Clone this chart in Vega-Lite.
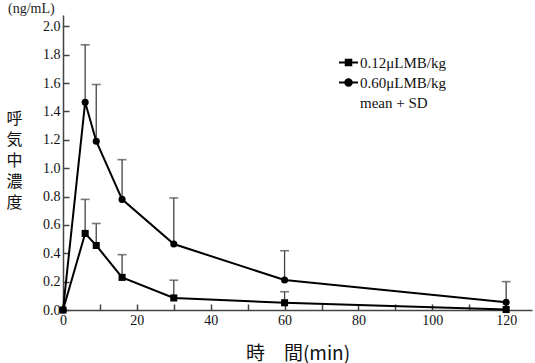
{
  "$schema": "https://vega.github.io/schema/vega-lite/v6.json",
  "width": 469,
  "height": 295,
  "autosize": "none",
  "padding": {"left": 63, "top": 15, "right": 3, "bottom": 53},
  "background": "white",
  "title": {"text": "(ng/mL)", "anchor": "start", "frame": "group", "dx": -55, "offset": -1, "font": "Liberation Serif", "fontSize": 14, "fontWeight": "normal", "color": "#222"},
  "config": {
    "view": {"stroke": null},
    "axis": {"grid": false, "domainColor": "#444", "domainWidth": 1.5, "tickColor": "#444", "tickWidth": 1.5, "labelFont": "Liberation Serif", "labelFontSize": 14, "labelColor": "#111"}
  },
  "data": {"values": [
    {"dose": "0.12μLMB/kg", "time": 0, "mean": 0, "upper": 0},
    {"dose": "0.12μLMB/kg", "time": 6, "mean": 0.54, "upper": 0.78},
    {"dose": "0.12μLMB/kg", "time": 9, "mean": 0.455, "upper": 0.61},
    {"dose": "0.12μLMB/kg", "time": 16, "mean": 0.23, "upper": 0.39},
    {"dose": "0.12μLMB/kg", "time": 30, "mean": 0.085, "upper": 0.21},
    {"dose": "0.12μLMB/kg", "time": 60, "mean": 0.051, "upper": 0.129},
    {"dose": "0.12μLMB/kg", "time": 120, "mean": 0.003, "upper": 0.003},
    {"dose": "0.60μLMB/kg", "time": 0, "mean": 0, "upper": 0},
    {"dose": "0.60μLMB/kg", "time": 6, "mean": 1.465, "upper": 1.87},
    {"dose": "0.60μLMB/kg", "time": 9, "mean": 1.19, "upper": 1.59},
    {"dose": "0.60μLMB/kg", "time": 16, "mean": 0.78, "upper": 1.06},
    {"dose": "0.60μLMB/kg", "time": 30, "mean": 0.465, "upper": 0.79},
    {"dose": "0.60μLMB/kg", "time": 60, "mean": 0.211, "upper": 0.418},
    {"dose": "0.60μLMB/kg", "time": 120, "mean": 0.054, "upper": 0.2}
  ]},
  "encoding": {
    "x": {"field": "time", "type": "quantitative", "scale": {"domain": [0, 127], "nice": false, "zero": true},
      "axis": {"values": [0,10,20,30,40,50,60,70,80,90,100,110,120], "labelExpr": "datum.value % 20 === 0 ? datum.label : ''", "tickSize": -6, "labelPadding": 9, "labelFlush": false,
        "title": "時　間(min)", "titleFont": "Noto Sans CJK JP", "titleFontSize": 19, "titleFontWeight": "normal", "titleColor": "#111", "titleY": 43, "titleBaseline": "middle"}},
    "y": {"field": "mean", "type": "quantitative", "scale": {"domain": [0, 2.08], "nice": false},
      "axis": {"values": [0,0.2,0.4,0.6,0.8,1.0,1.2,1.4,1.6,1.8,2.0], "format": ".1f", "tickSize": -6, "labelPadding": 9,
        "title": ["呼","気","中","濃","度"], "titleAngle": 0, "titleAlign": "center", "titleBaseline": "top", "titleX": -49, "titleY": 95, "titleFont": "Noto Sans CJK JP", "titleFontSize": 16, "titleFontWeight": "normal", "titleLineHeight": 21, "titleColor": "#111"}}
  },
  "layer": [
    {"transform": [{"filter": "datum.upper > datum.mean"}],
     "mark": {"type": "rule", "color": "#444", "strokeWidth": 1.3},
     "encoding": {"y2": {"field": "upper"}}},
    {"transform": [{"filter": "datum.upper > datum.mean"}],
     "mark": {"type": "tick", "orient": "horizontal", "color": "#444", "size": 9, "thickness": 1.6},
     "encoding": {"y": {"field": "upper", "type": "quantitative"}}},
    {"mark": {"type": "line", "color": "black", "strokeWidth": 2},
     "encoding": {"detail": {"field": "dose"}}},
    {"transform": [{"filter": "datum.dose == '0.60μLMB/kg'"}],
     "mark": {"type": "point", "shape": "circle", "filled": true, "color": "black", "opacity": 1, "size": 50}},
    {"transform": [{"filter": "datum.dose == '0.12μLMB/kg'"}],
     "mark": {"type": "point", "shape": "square", "filled": true, "color": "black", "opacity": 1, "size": 50}},
    {"transform": [{"filter": "false"}],
     "mark": {"type": "point", "filled": true, "color": "black", "opacity": 1},
     "encoding": {"shape": {"field": "dose", "type": "nominal",
        "scale": {"domain": ["0.12μLMB/kg", "0.60μLMB/kg", "mean + SD"], "range": ["M-1.9,-0.2H1.9V0.2H-1.9ZM-0.75,-0.75H0.75V0.75H-0.75Z", "M-1.9,-0.2H1.9V0.2H-1.9ZM0.85,0A0.85,0.85,0,1,1,-0.85,0A0.85,0.85,0,1,1,0.85,0Z", "M0,0"]},
        "legend": {"orient": "none", "legendX": 278, "legendY": 40, "title": null, "padding": 0, "rowPadding": 4, "symbolSize": 100, "labelFont": "Liberation Serif", "labelFontSize": 15, "labelColor": "#111", "labelOffset": 4, "symbolFillColor": "black", "symbolOpacity": 1}}}}
  ]
}
